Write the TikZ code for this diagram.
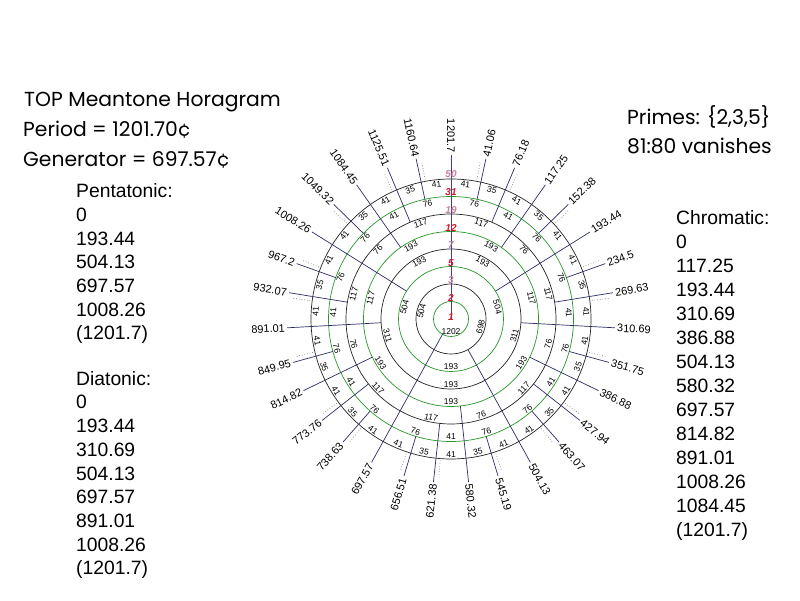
\documentclass[tikz,border=0pt]{standalone}
\usepackage{fontspec}
\setmainfont{Liberation Sans}
\newfontfamily\handfont{Poppins}
\usetikzlibrary{positioning}

\definecolor{ringgreen}{RGB}{40,150,40}
\definecolor{ringblack}{RGB}{35,35,35}
\definecolor{spokeblue}{RGB}{45,45,100}
\definecolor{zeroblue}{RGB}{60,60,175}
\definecolor{sizered}{RGB}{215,25,35}
\definecolor{sizefaint}{RGB}{205,125,160}

\begin{document}
\begin{tikzpicture}[
    x=1pt, y=1pt,
    ring/.style={line width=0.7pt},
    spoke/.style={spokeblue, line width=0.7pt},
    ghost/.style={gray, dotted, line width=0.7pt},
    steplbl/.style={font=\fontsize{8.5}{9}\selectfont, inner sep=0pt},
    notelbl/.style={font=\fontsize{11}{12}\selectfont, text=black, inner sep=2pt},
    sizelbl/.style={font=\fontsize{10}{11}\selectfont\bfseries\itshape, inner sep=0pt},
    heading/.style={font=\handfont\fontsize{20.3}{24}\selectfont, inner sep=0pt, anchor=base west},
    scalelist/.style={font=\fontsize{19.3}{23.7}\selectfont, align=left, inner sep=0pt, anchor=north west}
]
\useasboundingbox (0,0) rectangle (800,600);

% headings
\node[heading] (title) at (24,493.3) {TOP Meantone Horagram};
\node[heading] (period) at (23,463.3) {Period = 1201.70¢};
\node[heading] (generator) at (23,433) {Generator = 697.57¢};
\node[heading] (primes) at (627,475.7) {Primes: \{2,3,5\}};
\node[heading] (comma) at (627,446) {81:80 vanishes};

% scale lists
\node[scalelist] (penta) at (76,416.5) {Pentatonic:\\0\\193.44\\504.13\\697.57\\1008.26\\(1201.7)};
\node[scalelist, below=27pt of penta.south west, anchor=north west] (diat) {Diatonic:\\0\\193.44\\310.69\\504.13\\697.57\\891.01\\1008.26\\(1201.7)};
\node[scalelist, font=\fontsize{19.3}{24}\selectfont] (chrom) at (676,389.5) {Chromatic:\\0\\117.25\\193.44\\310.69\\386.88\\504.13\\580.32\\697.57\\814.82\\891.01\\1008.26\\1084.45\\(1201.7)};

\begin{scope}[shift={(451,281)}]
  % rings, inside out
  \foreach \r/\col in {17.5/ringgreen, 35/ringblack, 52.5/ringgreen, 70/ringblack, 87.5/ringgreen, 105/ringblack, 122.5/ringgreen, 140/ringblack}
    \draw[ring, \col] (0,0) circle (\r);

  % step sizes of each ring
  \foreach \rout/\notes in {17.5/{1201.7},
      35/{697.57,1201.7},
      52.5/{504.13,697.57,1201.7},
      70/{193.44,504.13,697.57,1008.26,1201.7},
      87.5/{193.44,310.69,504.13,697.57,891.01,1008.26,1201.7},
      105/{117.25,193.44,310.69,386.88,504.13,580.32,697.57,814.82,891.01,1008.26,1084.45,1201.7},
      122.5/{76.18,117.25,193.44,269.63,310.69,386.88,427.94,504.13,580.32,621.38,697.57,773.76,814.82,891.01,932.07,1008.26,1084.45,1125.51,1201.7},
      140/{41.06,76.18,117.25,152.38,193.44,234.5,269.63,310.69,351.75,386.88,427.94,463.07,504.13,545.19,580.32,621.38,656.51,697.57,738.63,773.76,814.82,849.95,891.01,932.07,967.2,1008.26,1049.32,1084.45,1125.51,1160.64,1201.7}}{
    \foreach \c [remember=\c as \p (initially 0)] in \notes {
      \pgfmathsetmacro{\m}{90-(\c/1201.7+\p/1201.7)*180}
      \pgfmathsetmacro{\rot}{sin(\m)<0 ? \m+90 : \m-90}
      \pgfmathsetmacro{\rl}{\rout-4.5}
      \pgfmathtruncatemacro{\s}{round(\c-\p)}
      \node[steplbl, rotate=\rot] at (\m:\rl) {\s};
    }
  }

  % 50-note ring, dotted
  \foreach \c in {35.13, 82.12, 158.31, 228.57, 275.56, 345.82, 422.01, 469.0, 539.26, 615.45, 662.44, 732.70, 779.69, 855.88, 926.14, 973.13, 1043.39, 1119.58, 1166.57} {
    \pgfmathsetmacro{\a}{90-\c/1201.7*360}
    \draw[ghost] (\a:142) -- (\a:160);
  }

  % spokes, right half
  \foreach \c/\rin in {504.13/35, 193.44/52.5, 310.69/70, 117.25/87.5, 386.88/87.5, 580.32/87.5, 76.18/105, 269.63/105, 427.94/105, 41.06/122.5, 152.38/122.5, 234.5/122.5, 351.75/122.5, 463.07/122.5, 545.19/122.5} {
    \pgfmathsetmacro{\a}{90-\c/1201.7*360}
    \draw[spoke] (\a:\rin) -- (\a:164) node[notelbl, anchor=west, rotate=\a] {\c};
  }
  % spokes, left half
  \foreach \c/\rin in {697.57/17.5, 1008.26/52.5, 891.01/70, 814.82/87.5, 1084.45/87.5, 621.38/105, 773.76/105, 932.07/105, 1125.51/105, 656.51/122.5, 738.63/122.5, 849.95/122.5, 967.2/122.5, 1049.32/122.5, 1160.64/122.5} {
    \pgfmathsetmacro{\a}{90-\c/1201.7*360}
    \draw[spoke] (\a:\rin) -- (\a:164) node[notelbl, anchor=east, rotate=\a+180] {\c};
  }
  \draw[zeroblue, line width=0.8pt] (0,0) -- (90:164) node[notelbl, anchor=east, rotate=-90] {1201.7};

  % scale sizes up the zero spoke
  \foreach \r/\n/\col in {2/1/sizered, 21/2/sizered, 38.5/3/sizefaint, 56/5/sizered, 73.5/7/sizefaint, 91/12/sizered, 108.5/19/sizefaint, 126.5/31/sizered, 144.5/50/sizefaint}
    \node[sizelbl, text=\col] at (0,\r) {\n};
\end{scope}
\end{tikzpicture}
\end{document}
